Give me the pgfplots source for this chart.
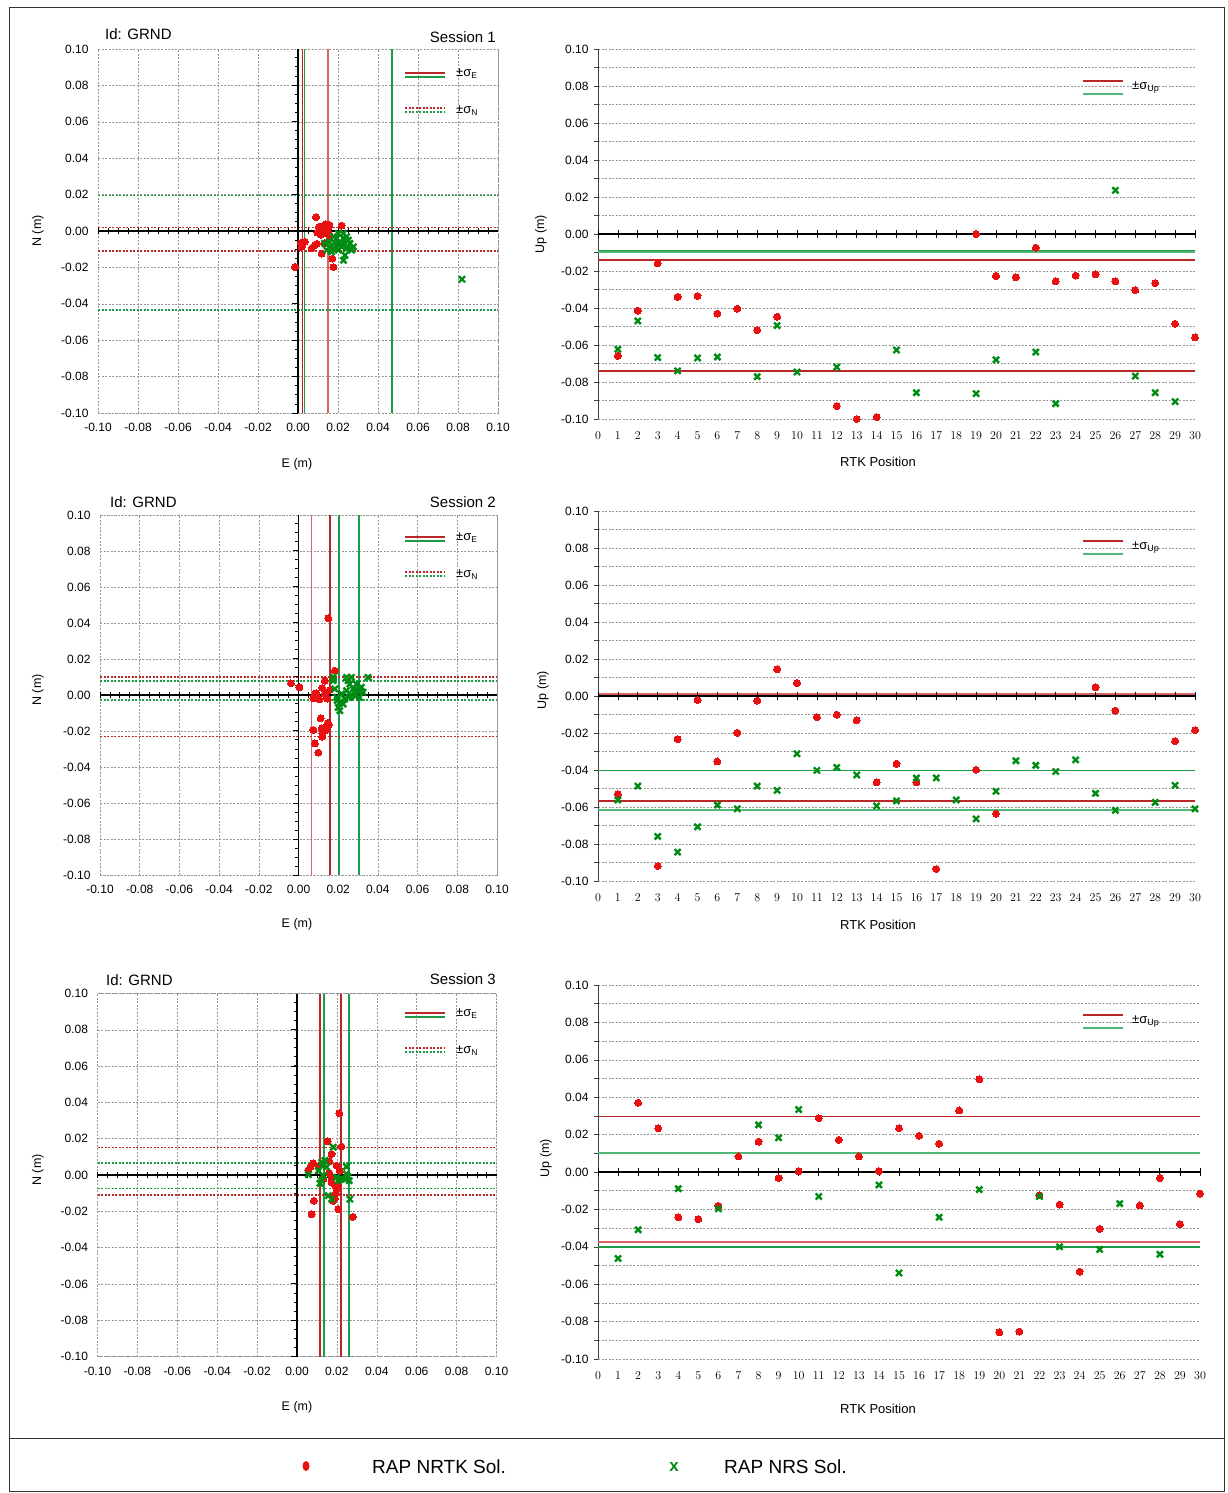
\documentclass[border=0pt]{standalone}
\usepackage{fontspec}
\setmainfont{Liberation Sans}
\usepackage{pgfplots}
\pgfplotsset{compat=1.18}
\definecolor{ptred}{RGB}{232,16,16}
\definecolor{ptgreen}{RGB}{0,140,20}
\definecolor{sred}{RGB}{185,40,40}
\definecolor{sredl}{RGB}{215,100,100}
\definecolor{sgreen}{RGB}{30,155,70}
\definecolor{sgreenl}{RGB}{80,185,120}
\definecolor{gridc}{RGB}{150,150,150}
\newcommand{\ticksize}{\fontsize{12}{14}\selectfont}
\tikzset{
  gridsty/.style={draw=gridc, dash pattern=on 2pt off 1.5pt, line width=0.6pt},
  sigE/.style={line width=1.8pt},
  sigN/.style={line width=1.5pt, dash pattern=on 2pt off 1.5pt},
}
\pgfplotsset{
  scat/.style={scale only axis, width=400pt, height=364pt,
    xmin=-0.1,xmax=0.1,ymin=-0.1,ymax=0.1,
    xtick={-0.1,-0.08,-0.06,-0.04,-0.02,0,0.02,0.04,0.06,0.08,0.1},
    ytick={-0.1,-0.08,-0.06,-0.04,-0.02,0,0.02,0.04,0.06,0.08,0.1},
    xticklabels={-0.10,-0.08,-0.06,-0.04,-0.02,0.00,0.02,0.04,0.06,0.08,0.10},
    yticklabels={-0.10,-0.08,-0.06,-0.04,-0.02,0.00,0.02,0.04,0.06,0.08,0.10},
    grid=major, major grid style={gridsty},
    axis line style={gridsty},
    major tick length=0pt,
    tick label style={font=\ticksize},
    xticklabel style={yshift=-7pt}, yticklabel style={xshift=-6pt},
    unbounded coords=jump,
    clip=false},
  up/.style={scale only axis, width=597pt, height=370pt,
    xmin=0,xmax=30,ymin=-0.1,ymax=0.1,
    axis lines=left, axis line style={-},
    x axis line style={draw=none}, y axis line style={draw=black!75, line width=0.8pt},
    xtick={0,...,30}, xtick style={draw=none},
    ytick={-0.1,-0.08,-0.06,-0.04,-0.02,0,0.02,0.04,0.06,0.08,0.1},
    yticklabels={-0.10,-0.08,-0.06,-0.04,-0.02,0.00,0.02,0.04,0.06,0.08,0.10},
    minor ytick={-0.09,-0.07,-0.05,-0.03,-0.01,0.01,0.03,0.05,0.07,0.09},
    ymajorgrids, yminorgrids, major grid style={gridsty}, minor grid style={gridsty},
    tick align=outside, major tick length=4pt, minor tick length=4pt,
    ytick style={draw=black!75, line width=0.6pt},
    tick label style={font=\ticksize},
    xticklabel style={yshift=-5pt}, yticklabel style={xshift=-2pt},
    unbounded coords=jump,
    clip=false},
  redpt/.style={only marks, mark=*, mark size=3.5pt, mark options={fill=ptred, draw=ptred, line width=0pt}},
  grnpt/.style={only marks, mark=x, mark size=4.3pt, mark options={draw=ptgreen, line width=2.4pt}},
}
\newcommand{\scataxes}{%
  \draw[draw=black, line width=1.3pt] (axis cs:0,-0.1) -- (axis cs:0,0.1) (axis cs:-0.1,0) -- (axis cs:0.1,0);
  \draw[draw=black, line width=0.8pt] foreach \t in {-0.1,-0.095,...,0.1} {(axis cs:0,\t) -- ++(-3.5pt,0pt) (axis cs:\t,0) ++(0pt,-3pt) -- ++(0pt,6pt)};
  \draw[draw=black, line width=1pt] foreach \t in {-0.1,-0.08,...,0.1} {(axis cs:0,\t) -- ++(-6pt,0pt)};
}
\newcommand{\upaxes}{%
  \draw[draw=black, line width=1.3pt] (axis cs:0,0) -- (axis cs:30,0);
  \draw[draw=black, line width=0.8pt] foreach \t in {0,...,30} {(axis cs:\t,0) ++(0pt,-4pt) -- ++(0pt,8pt)};
}
\begin{document}
\begin{tikzpicture}
\path[use as bounding box] (0pt,0pt) rectangle (1228pt,-1493pt);

% ================= Session 1 scatter
\begin{axis}[scat, at={(98pt,-413pt)}, anchor=south west]
\addplot[draw=sred, sigE] coordinates {(0.0022,-0.1) (0.0022,0.1)};
\addplot[draw=sredl, sigE] coordinates {(0.0148,-0.1) (0.0148,0.1)};
\addplot[draw=sgreen, sigE] coordinates {(0.0032,-0.1) (0.0032,0.1) (nan,nan) (0.0468,-0.1) (0.0468,0.1)};
\addplot[draw=sred, sigN] coordinates {(-0.1,0.002) (0.1,0.002) (nan,nan) (-0.1,-0.011) (0.1,-0.011)};
\addplot[draw=sgreen, sigN] coordinates {(-0.1,0.0196) (0.1,0.0196) (nan,nan) (-0.1,-0.0435) (0.1,-0.0435)};
\scataxes
\addplot[redpt] coordinates {(0.009,0.0076) (0.0218,0.003) (0.011,0.0015) (0.0127,0.0028) (0.0143,0.0024) (0.0157,0.0033) (0.0118,-0.0004) (0.0097,-0.0009) (0.0133,-0.0013) (0.0035,-0.0059) (0.0018,-0.0087) (0.0068,-0.0096) (0.0085,-0.0078) (0.0118,-0.0124) (0.0172,-0.0152) (0.0177,-0.0198) (-0.0015,-0.0198) (0.0133,-0.0068) (0.0122,0.0005) (0.0148,0.0012) (0.0105,0.0022) (0.0138,0.0036) (0.0115,-0.002) (0.0152,-0.0008) (0.0128,0.0010) (0.0095,-0.007) (0.0160,-0.003) (0.0015,-0.0065)};
\addplot[grnpt] coordinates {(0.0133,-0.0068) (0.0155,-0.006) (0.0177,-0.0031) (0.0202,-0.0013) (0.0227,-0.0013) (0.0243,-0.0031) (0.026,-0.0068) (0.0277,-0.0087) (0.0268,-0.0105) (0.0235,-0.0133) (0.0227,-0.0161) (0.0202,-0.0105) (0.0177,-0.0096) (0.016,-0.0087) (0.0185,-0.0068) (0.021,-0.0059) (0.0235,-0.0068) (0.0252,-0.005) (0.0193,-0.004) (0.0218,-0.0087) (0.0243,-0.0096) (0.0143,-0.0105) (0.0168,-0.0115) (0.0202,-0.0078) (0.026,-0.0096) (0.0227,-0.004) (0.082,-0.0265)};
\end{axis}

% ================= Session 1 Up
\begin{axis}[up, at={(598pt,-419pt)}, anchor=south west]
\addplot[draw=sgreenl, line width=2pt] coordinates {(0,-0.0095) (30,-0.0095)};
\addplot[draw=sgreen, line width=1.3pt] coordinates {(0,-0.0088) (30,-0.0088)};
\addplot[draw=sred, line width=1.5pt] coordinates {(0,-0.014) (30,-0.014)};
\addplot[draw=sred, line width=1.5pt] coordinates {(0,-0.074) (30,-0.074)};
\upaxes
\addplot[redpt] coordinates {(1,-0.0659) (2,-0.0414) (3,-0.0159) (4,-0.034) (5,-0.0335) (6,-0.043) (7,-0.0404) (8,-0.052) (9,-0.0447) (12,-0.093) (13,-0.100) (14,-0.099) (19,0.000) (20,-0.0227) (21,-0.0234) (22,-0.0074) (23,-0.0256) (24,-0.0225) (25,-0.0218) (26,-0.0256) (27,-0.0303) (28,-0.0265) (29,-0.0485) (30,-0.0559)};
\addplot[grnpt] coordinates {(1,-0.0623) (2,-0.047) (3,-0.0668) (4,-0.074) (5,-0.067) (6,-0.0665) (8,-0.0771) (9,-0.0495) (10,-0.0746) (12,-0.0719) (15,-0.0627) (16,-0.0858) (19,-0.0863) (20,-0.068) (22,-0.0638) (23,-0.0917) (26,0.0236) (27,-0.0768) (28,-0.0858) (29,-0.0906)};
\end{axis}

% ================= Session 2 scatter
\begin{axis}[scat, width=397pt, height=360pt, at={(100pt,-875pt)}, anchor=south west]
\addplot[draw=sredl, sigE] coordinates {(0.0065,-0.1) (0.0065,0.1)};
\addplot[draw=sred, sigE] coordinates {(0.016,-0.1) (0.016,0.1)};
\addplot[draw=sgreen, sigE] coordinates {(0.0203,-0.1) (0.0203,0.1) (nan,nan) (0.0303,-0.1) (0.0303,0.1)};
\addplot[draw=sred, sigN] coordinates {(-0.1,0.010) (0.1,0.010) (nan,nan) (-0.1,-0.023) (0.1,-0.023)};
\addplot[draw=sgreen, sigN] coordinates {(-0.1,0.0077) (0.1,0.0077) (nan,nan) (-0.1,-0.0028) (0.1,-0.0028)};
\scataxes
\addplot[redpt] coordinates {(0.015,0.0426) (0.0183,0.0135) (-0.0038,0.0065) (0.0005,0.0043) (0.0133,0.008) (0.012,0.0039) (0.0133,0.0006) (0.0158,0.0028) (0.0083,0.0004) (0.0075,-0.0018) (0.0105,-0.0024) (0.0112,-0.013) (0.0075,-0.0194) (0.0117,-0.0185) (0.012,-0.0213) (0.012,-0.0232) (0.014,-0.0176) (0.0148,-0.0154) (0.0083,-0.0269) (0.01,-0.032) (0.0153,-0.0165) (0.0138,-0.0196) (0.0145,-0.002) (0.009,0.001)};
\addplot[grnpt] coordinates {(0.0175,0.008) (0.0183,0.0034) (0.0192,-0.0013) (0.02,-0.0069) (0.0208,-0.0041) (0.0217,0.0006) (0.0233,-0.0022) (0.0242,0.0024) (0.0258,0.0061) (0.0267,0.0098) (0.0275,0.0033) (0.0283,-0.0004) (0.0292,0.0061) (0.03,0.0024) (0.0308,-0.0013) (0.0317,0.0043) (0.0325,0.0015) (0.0225,-0.005) (0.025,0.008) (0.0267,-0.0004) (0.0242,0.0098) (0.0208,-0.0087) (0.0195,-0.003) (0.0255,-0.0013) (0.0288,0.0028) (0.035,0.0098) (0.0175,0.010)};
\end{axis}

% ================= Session 2 Up
\begin{axis}[up, at={(598pt,-881pt)}, anchor=south west]
\addplot[draw=sredl, line width=2pt] coordinates {(0,0.0009) (30,0.0009)};
\addplot[draw=sred, line width=1.5pt] coordinates {(0,-0.0567) (30,-0.0567)};
\addplot[draw=sgreen, line width=1.5pt] coordinates {(0,-0.0402) (30,-0.0402)};
\addplot[draw=sgreenl, line width=2pt] coordinates {(0,-0.0616) (30,-0.0616)};
\upaxes
\addplot[redpt] coordinates {(1,-0.053) (3,-0.0919) (4,-0.0233) (5,-0.0022) (6,-0.0354) (7,-0.0199) (8,-0.0025) (9,0.0144) (10,0.007) (11,-0.0115) (12,-0.0101) (13,-0.0131) (14,-0.0467) (15,-0.0366) (16,-0.0467) (17,-0.0935) (19,-0.0399) (20,-0.0636) (25,0.0048) (26,-0.0079) (29,-0.0244) (30,-0.0185)};
\addplot[grnpt] coordinates {(1,-0.0562) (2,-0.0487) (3,-0.0759) (4,-0.0844) (5,-0.0707) (6,-0.0589) (7,-0.061) (8,-0.0487) (9,-0.051) (10,-0.0312) (11,-0.0402) (12,-0.0386) (13,-0.0427) (14,-0.0594) (15,-0.0567) (16,-0.0443) (17,-0.0443) (18,-0.0562) (19,-0.0664) (20,-0.0515) (21,-0.035) (22,-0.0375) (23,-0.0408) (24,-0.0345) (25,-0.0526) (26,-0.0618) (28,-0.0575) (29,-0.0483) (30,-0.061)};
\end{axis}

% ================= Session 3 scatter
\begin{axis}[scat, width=399pt, height=363pt, at={(97.5pt,-1356.5pt)}, anchor=south west]
\addplot[draw=sred, sigE] coordinates {(0.0115,-0.1) (0.0115,0.1) (nan,nan) (0.0219,-0.1) (0.0219,0.1)};
\addplot[draw=sgreen, sigE] coordinates {(0.0134,-0.1) (0.0134,0.1) (nan,nan) (0.0259,-0.1) (0.0259,0.1)};
\addplot[draw=sred, sigN] coordinates {(-0.1,0.0152) (0.1,0.0152) (nan,nan) (-0.1,-0.011) (0.1,-0.011)};
\addplot[draw=sgreen, sigN] coordinates {(-0.1,0.0066) (0.1,0.0066) (nan,nan) (-0.1,-0.0073) (0.1,-0.0073)};
\scataxes
\addplot[redpt] coordinates {(0.0212,0.034) (0.0153,0.0186) (0.0223,0.0157) (0.0173,0.0116) (0.0162,0.0075) (0.0082,0.0064) (0.0068,0.0046) (0.0198,0.0052) (0.0215,0.0021) (0.0162,0.0010) (0.0173,-0.0016) (0.0173,-0.004) (0.019,-0.0058) (0.0207,-0.0058) (0.0182,-0.0114) (0.019,-0.0127) (0.0182,-0.0142) (0.0207,-0.0188) (0.0085,-0.0142) (0.0073,-0.0216) (0.028,-0.0231) (0.0057,0.0025) (0.0107,0.005) (0.0132,-0.0022) (0.0198,-0.0077) (0.0195,-0.01)};
\addplot[grnpt] coordinates {(0.0182,0.0153) (0.0123,0.007) (0.0132,0.0052) (0.0107,0.0024) (0.0057,0.0002) (0.0132,-0.0004) (0.0123,-0.0031) (0.0115,-0.0046) (0.0248,0.0046) (0.0257,-0.0009) (0.024,-0.0022) (0.0223,-0.0022) (0.0207,-0.0031) (0.0265,-0.0133) (0.0157,-0.0114) (0.0248,0.0006) (0.014,0.008) (0.0198,-0.0013) (0.0262,-0.0031) (0.0148,0.0043) (0.0173,-0.0133)};
\end{axis}

% ================= Session 3 Up
\begin{axis}[up, width=602pt, height=374pt, at={(598pt,-1359pt)}, anchor=south west]
\addplot[draw=sred, line width=1.5pt] coordinates {(0,0.0298) (30,0.0298)};
\addplot[draw=sredl, line width=2pt] coordinates {(0,-0.0373) (30,-0.0373)};
\addplot[draw=sgreenl, line width=1.8pt] coordinates {(0,0.0101) (30,0.0101)};
\addplot[draw=sgreen, line width=1.5pt] coordinates {(0,-0.040) (30,-0.040)};
\upaxes
\addplot[redpt] coordinates {(2,0.0371) (3,0.0234) (4,-0.0242) (5,-0.0252) (6,-0.0181) (7,0.0083) (8,0.0162) (9,-0.0032) (10,0.0003) (11,0.0288) (12,0.0172) (13,0.0083) (14,0.0005) (15,0.0234) (16,0.0194) (17,0.0151) (18,0.0329) (19,0.0496) (20,-0.0858) (21,-0.0853) (22,-0.0125) (23,-0.0174) (24,-0.0533) (25,-0.0304) (27,-0.0179) (28,-0.0032) (29,-0.0279) (30,-0.0115)};
\addplot[grnpt] coordinates {(1,-0.0462) (2,-0.0309) (4,-0.0089) (6,-0.0197) (8,0.0252) (9,0.0183) (10,0.0334) (11,-0.0131) (14,-0.0069) (15,-0.054) (17,-0.0242) (19,-0.0094) (22,-0.0131) (23,-0.04) (25,-0.0414) (26,-0.0169) (28,-0.044)};
\end{axis}

% ================= texts
\begin{scope}[every node/.style={inner sep=0pt}]
\node[anchor=west, font=\fontsize{15}{17}\selectfont] at (105pt,-34pt) {Id: GRND};
\node[anchor=east, font=\fontsize{15}{17}\selectfont] at (496pt,-37pt) {Session 1};
\node[anchor=west, font=\fontsize{15}{17}\selectfont] at (110pt,-502pt) {Id: GRND};
\node[anchor=east, font=\fontsize{15}{17}\selectfont] at (496pt,-502pt) {Session 2};
\node[anchor=west, font=\fontsize{15}{17}\selectfont] at (106pt,-980pt) {Id: GRND};
\node[anchor=east, font=\fontsize{15}{17}\selectfont] at (496pt,-979pt) {Session 3};

\node[rotate=90, font=\fontsize{12.5}{14}\selectfont] at (38pt,-231pt) {N (m)};
\node[rotate=90, font=\fontsize{12.5}{14}\selectfont] at (38pt,-690pt) {N (m)};
\node[rotate=90, font=\fontsize{12.5}{14}\selectfont] at (38pt,-1170pt) {N (m)};
\node[font=\fontsize{12.5}{14}\selectfont] at (297pt,-464pt) {E (m)};
\node[font=\fontsize{12.5}{14}\selectfont] at (297pt,-924pt) {E (m)};
\node[font=\fontsize{12.5}{14}\selectfont] at (297pt,-1407pt) {E (m)};
\node[rotate=90, font=\fontsize{12.5}{14}\selectfont] at (541pt,-234pt) {Up (m)};
\node[rotate=90, font=\fontsize{12.5}{14}\selectfont] at (543pt,-690pt) {Up (m)};
\node[rotate=90, font=\fontsize{12.5}{14}\selectfont] at (546pt,-1158pt) {Up (m)};
\node[font=\fontsize{13}{15}\selectfont] at (878pt,-462pt) {RTK Position};
\node[font=\fontsize{13}{15}\selectfont] at (878pt,-925pt) {RTK Position};
\node[font=\fontsize{13}{15}\selectfont] at (878pt,-1409pt) {RTK Position};

% sigma legends
\foreach \y in {73,537,1013}{
  \draw[draw=sred, line width=1.4pt] (405pt,-\y pt) -- (445pt,-\y pt);
  \draw[draw=sgreen, line width=1.4pt] (405pt,-\y pt-4pt) -- (445pt,-\y pt-4pt);
  \node[anchor=west, font=\fontsize{13}{15}\selectfont] at (456pt,-\y pt-1pt) {±σ\textsubscript{\fontsize{8.5}{9}\selectfont E}};
  \draw[draw=sred, sigN] (405pt,-\y pt-35pt) -- (445pt,-\y pt-35pt);
  \draw[draw=sgreen, sigN] (405pt,-\y pt-39pt) -- (445pt,-\y pt-39pt);
  \node[anchor=west, font=\fontsize{13}{15}\selectfont] at (456pt,-\y pt-38pt) {±σ\textsubscript{\fontsize{8.5}{9}\selectfont N}};
}
\foreach \y in {81,541,1015}{
  \draw[draw=sred, line width=1.4pt] (1083pt,-\y pt) -- (1123pt,-\y pt);
  \draw[draw=sgreenl, line width=1.6pt] (1083pt,-\y pt-13pt) -- (1123pt,-\y pt-13pt);
  \node[anchor=west, font=\fontsize{13}{15}\selectfont] at (1132pt,-\y pt-7pt) {±σ\textsubscript{\fontsize{9}{10}\selectfont Up}};
}

% frame and bottom legend
\draw[draw=black!80, line width=1pt] (9pt,-8pt) rectangle (1224pt,-1491pt);
\draw[draw=black!80, line width=1pt] (9pt,-1438pt) -- (1224pt,-1438pt);
\fill[fill=ptred] (306pt,-1466pt) ellipse (3.5pt and 5pt);
\node[anchor=west, font=\fontsize{19}{21}\selectfont] at (372pt,-1467pt) {RAP NRTK Sol.};
\node[text=ptgreen, font=\fontsize{17}{19}\selectfont\bfseries] at (674pt,-1467pt) {x};
\node[anchor=west, font=\fontsize{19}{21}\selectfont] at (724pt,-1467pt) {RAP NRS Sol.};
\end{scope}
\end{tikzpicture}
\end{document}
